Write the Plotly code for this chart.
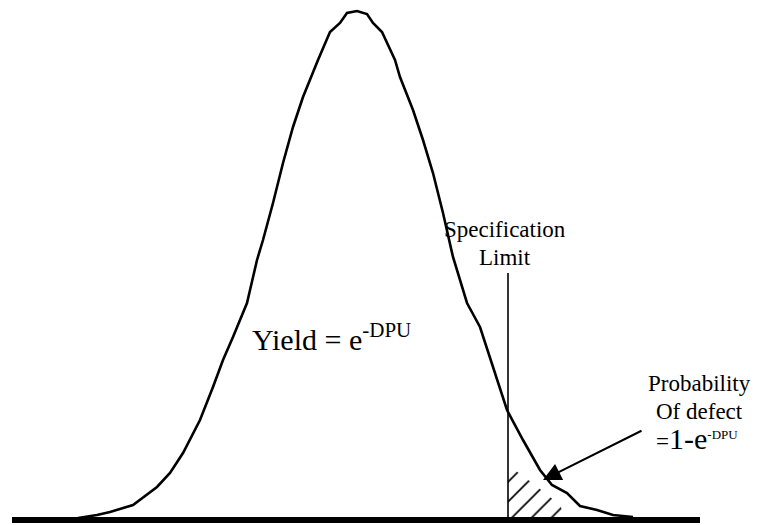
import plotly.graph_objects as go

# Bell curve (x position, height above the baseline)
curve_x = [78, 97, 110, 133, 157, 170, 183, 200, 213, 223, 233, 247, 257, 263, 273,
           283, 293, 303, 318, 330, 340, 347, 357, 367, 373, 382, 395, 400, 413, 423,
           433, 443, 453, 467, 480, 493, 507, 523, 540, 552, 567, 580, 597, 613, 633]
curve_y = [2, 5, 8, 15, 33, 47, 67, 100, 133, 160, 183, 217, 260, 280, 317,
           357, 393, 423, 460, 488, 497, 507, 509, 506, 497, 488, 460, 443, 410, 380,
           347, 307, 263, 217, 193, 153, 110, 80, 50, 35, 27, 14, 10, 5, 3]

# Baseline, specification limit and hatched defect area
baseline_x = [12, 700]
spec_limit_x = 508
spec_limit_top = 247
hatch_x = [508, 508, 535, 560, 566]
hatch_y = [0, 55, 35, 15, 0]

FONT = "Liberation Serif"

fig = go.Figure()

# hatched tail beyond the spec limit
fig.add_trace(go.Scatter(
    x=hatch_x, y=hatch_y, mode="none", fill="toself",
    fillcolor="rgba(0,0,0,0)",
    fillpattern=dict(shape="/", size=14, solidity=0.12, fillmode="replace",
                     fgcolor="black", fgopacity=1, bgcolor="rgba(0,0,0,0)"),
    hoverinfo="skip"))

# bell curve
fig.add_trace(go.Scatter(
    x=curve_x, y=curve_y, mode="lines",
    line=dict(color="black", width=2.6), hoverinfo="skip"))

# spec limit line
fig.add_trace(go.Scatter(
    x=[spec_limit_x, spec_limit_x], y=[0, spec_limit_top], mode="lines",
    line=dict(color="black", width=1.6), hoverinfo="skip"))

# thick baseline
fig.add_trace(go.Scatter(
    x=baseline_x, y=[0, 0], mode="lines",
    line=dict(color="black", width=6), hoverinfo="skip"))

annotations = [
    dict(x=505, y=291, text="Specification", font=dict(size=23)),
    dict(x=505, y=263, text="Limit", font=dict(size=23)),
    dict(x=250, y=183, xanchor="left", text="Yield = e<sup>-DPU</sup>", font=dict(size=30)),
    dict(x=699, y=137, text="Probability", font=dict(size=23)),
    dict(x=699, y=109, text="Of defect", font=dict(size=23)),
    dict(x=697, y=82,
         text="=<span style='font-size:30px'>1-e</span>"
              "<sup><span style='font-size:13px'>-DPU</span></sup>",
         font=dict(size=23)),
    # arrow pointing at the defect area
    dict(x=543, y=40, ax=643, ay=90, axref="x", ayref="y", text="",
         showarrow=True, arrowhead=2, arrowsize=1.8, arrowwidth=2,
         arrowcolor="black", standoff=0, startstandoff=0),
]
for a in annotations:
    a.setdefault("showarrow", False)
    a.setdefault("xanchor", "center")
    a.setdefault("yanchor", "middle")
    a["font"] = dict(family=FONT, color="black", **a.get("font", {}))
    fig.add_annotation(**a)

fig.update_layout(
    width=757, height=525,
    margin=dict(l=0, r=0, t=0, b=0),
    plot_bgcolor="white", paper_bgcolor="white",
    showlegend=False,
    xaxis=dict(range=[0, 757], visible=False, fixedrange=True),
    yaxis=dict(range=[-5, 520], visible=False, fixedrange=True),
)

fig.write_html("out.html", config={"displayModeBar": False},
               post_script="document.body.style.margin='0';")
